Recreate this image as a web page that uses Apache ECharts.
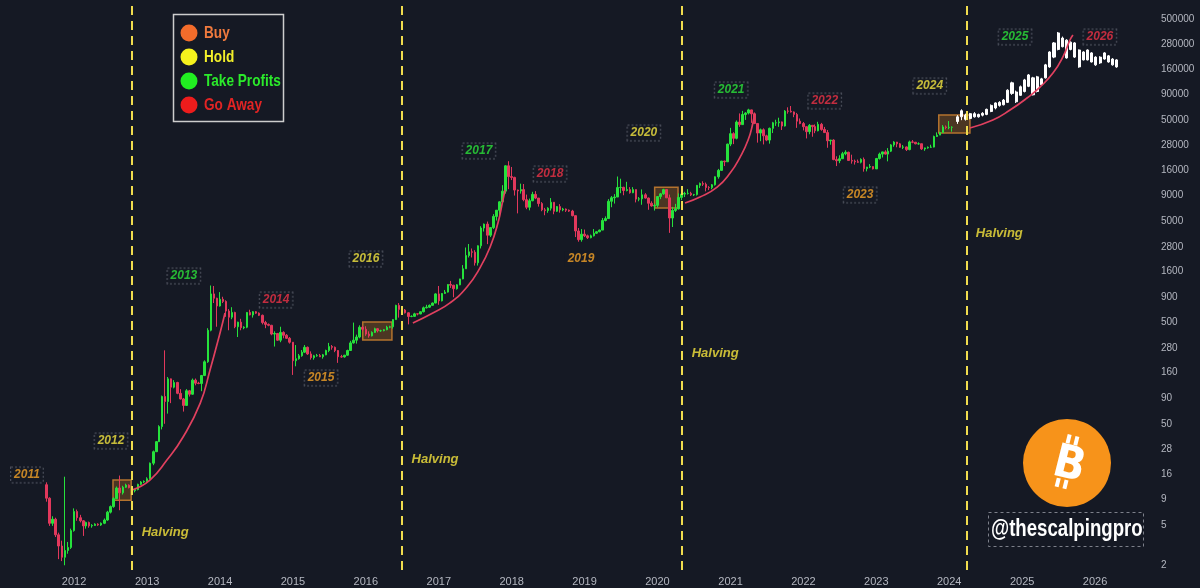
<!DOCTYPE html>
<html>
<head>
<meta charset="utf-8">
<script src="https://cdn.jsdelivr.net/npm/echarts@6/dist/echarts.min.js"></script>
<style>
  html, body { margin: 0; padding: 0; background: #151924; }
  #chart { width: 1200px; height: 588px; }
</style>
</head>
<body>
<div id="chart"></div>
<script>
// half-month candles, [open, close, low, high]; first one is 2011-08-16
const realStart = { year: 2011, month: 7, half: 1 };
const realOhlc = [
  // 2011
  [12.5, 9.2, 8.5, 13.2], [9.2, 5.2, 4.9, 9.4], [5.2, 5.7, 4.9, 6.1], [5.7, 4.0, 3.8, 5.9],
  [4.0, 3.1, 2.3, 4.2], [3.1, 2.4, 2.2, 3.5], [2.4, 2.8, 2.0, 15.0], [2.8, 3.0, 2.6, 3.4],
  [3.0, 4.4, 2.9, 4.6],
  // 2012
  [4.4, 6.8, 4.3, 7.3], [6.8, 5.9, 5.5, 7.1], [5.9, 5.5, 5.3, 6.3], [5.5, 4.9, 3.9, 5.6],
  [4.9, 5.3, 4.6, 5.4], [5.3, 4.9, 4.7, 5.4], [4.9, 4.95, 4.7, 5.1], [4.95, 5.1, 4.9, 5.2],
  [5.1, 5.0, 4.9, 5.2], [5.0, 5.2, 4.9, 5.3], [5.2, 5.6, 5.1, 5.8], [5.6, 6.7, 5.5, 6.9],
  [6.7, 7.6, 6.5, 7.8], [7.6, 9.1, 7.4, 9.4], [9.1, 11.6, 9.0, 12.0], [11.6, 10.4, 7.0, 15.4],
  [10.4, 11.8, 10.0, 12.2], [11.8, 12.4, 11.6, 12.8], [12.4, 11.7, 11.5, 12.6], [11.7, 10.9, 10.6, 12.0],
  [10.9, 11.2, 10.5, 11.4], [11.2, 12.6, 11.0, 12.8], [12.6, 13.3, 12.4, 13.6], [13.3, 13.5, 13.0, 13.8],
  // 2013
  [13.5, 14.3, 13.2, 14.8], [14.3, 20.4, 14.1, 20.7], [20.4, 26.5, 19.5, 27.2], [26.5, 33.3, 26.3, 33.8],
  [33.3, 46.9, 33.0, 48.4], [46.9, 93, 44, 95], [93, 83, 50, 266], [83, 139, 63, 145],
  [139, 115, 80, 140], [115, 128, 112, 135], [128, 100, 98, 130], [100, 88, 87, 110],
  [88, 76, 66, 90], [76, 106, 75, 110], [106, 98, 93, 108], [98, 135, 97, 140],
  [135, 126, 120, 140], [126, 125, 123, 130], [125, 150, 105, 152], [150, 205, 148, 212],
  [205, 420, 200, 440], [420, 960, 410, 1163], [960, 870, 780, 1150], [870, 730, 455, 880],
  // 2014
  [730, 850, 720, 1000], [850, 810, 780, 900], [810, 650, 570, 830], [650, 565, 420, 680],
  [565, 630, 540, 710], [630, 455, 440, 640], [455, 505, 360, 510], [505, 445, 420, 545],
  [445, 450, 430, 460], [450, 630, 440, 635], [630, 595, 590, 670], [595, 640, 560, 650],
  [640, 620, 610, 650], [620, 590, 580, 630], [590, 500, 480, 600], [500, 480, 440, 520],
  [480, 470, 460, 490], [470, 385, 375, 475], [385, 390, 290, 410], [390, 335, 330, 395],
  [335, 400, 320, 455], [400, 375, 350, 410], [375, 350, 345, 385], [350, 320, 310, 360],
  // 2015
  [320, 210, 152, 320], [210, 220, 185, 300], [220, 235, 215, 245], [235, 255, 230, 268],
  [255, 285, 250, 300], [285, 245, 240, 290], [245, 225, 215, 260], [225, 235, 215, 240],
  [235, 236, 230, 245], [236, 230, 228, 245], [230, 240, 220, 245], [240, 265, 238, 270],
  [265, 290, 255, 315], [290, 285, 270, 300], [285, 265, 255, 290], [265, 230, 200, 268],
  [230, 229, 225, 240], [229, 238, 225, 240], [238, 265, 235, 270], [265, 315, 262, 330],
  [315, 335, 310, 500], [335, 360, 310, 380], [360, 450, 350, 470], [450, 430, 410, 465],
  // 2016
  [430, 385, 370, 460], [385, 370, 355, 410], [370, 400, 365, 410], [400, 435, 395, 445],
  [435, 415, 400, 440], [415, 416, 405, 425], [416, 425, 410, 430], [425, 450, 420, 465],
  [450, 455, 440, 465], [455, 535, 435, 540], [535, 740, 530, 750], [740, 675, 560, 780],
  [675, 665, 610, 700], [665, 625, 615, 680], [625, 575, 480, 630], [575, 576, 565, 590],
  [576, 610, 570, 625], [610, 608, 590, 615], [608, 640, 605, 645], [640, 700, 630, 720],
  [700, 710, 690, 750], [710, 740, 700, 755], [740, 780, 740, 790], [780, 960, 775, 975],
  // 2017
  [960, 820, 750, 1150], [820, 970, 810, 980], [970, 1000, 960, 1050], [1000, 1190, 990, 1200],
  [1190, 1170, 1100, 1290], [1170, 1080, 890, 1180], [1080, 1180, 1060, 1200], [1180, 1350, 1170, 1355],
  [1350, 1700, 1340, 1850], [1700, 2300, 1700, 2760], [2300, 2500, 2200, 2990], [2500, 2480, 2200, 2700],
  [2480, 1950, 1830, 2600], [1950, 2870, 1830, 2900], [2870, 4300, 2700, 4480], [4300, 4700, 3970, 4760],
  [4700, 3650, 2980, 4980], [3650, 4340, 3500, 4400], [4340, 5600, 4200, 5900], [5600, 6450, 5100, 6470],
  [6450, 7800, 5500, 7900], [7800, 9950, 7700, 11400], [9950, 17700, 9400, 17900], [17700, 13850, 10400, 19666],
  // 2018
  [13850, 13600, 12800, 17250], [13600, 10200, 9000, 13800], [10200, 10000, 6000, 10300], [10000, 10300, 9400, 11800],
  [10300, 8200, 7900, 11700], [8200, 6900, 6600, 9200], [6900, 8000, 6430, 8400], [8000, 9250, 7900, 9800],
  [9250, 8500, 8300, 9950], [8500, 7500, 7000, 8500], [7500, 6500, 6300, 7750], [6500, 6390, 5750, 6800],
  [6390, 6750, 6080, 6900], [6750, 7730, 6400, 8500], [7730, 6300, 5880, 7750], [6300, 7000, 6200, 7100],
  [7000, 6500, 6100, 7400], [6500, 6620, 6300, 6800], [6620, 6450, 6200, 6700], [6450, 6320, 6200, 6550],
  [6320, 5700, 5600, 6500], [5700, 4020, 3500, 5700], [4020, 3300, 3150, 4300], [3300, 3740, 3150, 4200],
  // 2019
  [3740, 3600, 3500, 4150], [3600, 3450, 3350, 3700], [3450, 3600, 3400, 3700], [3600, 3820, 3550, 4200],
  [3820, 3950, 3750, 4000], [3950, 4100, 3900, 4150], [4100, 5100, 4100, 5400], [5100, 5330, 5000, 5600],
  [5330, 7900, 5300, 8300], [7900, 8560, 6900, 8900], [8560, 8700, 7500, 9300], [8700, 10800, 8700, 13880],
  [10800, 10850, 9500, 13200], [10850, 10090, 9060, 11000], [10090, 10300, 9900, 12300], [10300, 9600, 9400, 10900],
  [9600, 10300, 9500, 10900], [10300, 8300, 7700, 10350], [8300, 8350, 7900, 8700], [8350, 9150, 7300, 10350],
  [9150, 8500, 8400, 9500], [8500, 7550, 6515, 8600], [7550, 7100, 7000, 7900], [7100, 7200, 6400, 7500],
  // 2020
  [7200, 8800, 6850, 8900], [8800, 9350, 8300, 9550], [9350, 10300, 9150, 10500], [10300, 8540, 8500, 10300],
  [8540, 5400, 3850, 9200], [5400, 6420, 4400, 6950], [6420, 6650, 6200, 7450], [6650, 8620, 6550, 9450],
  [8620, 9300, 8100, 10000], [9300, 9450, 8700, 9800], [9450, 9460, 9200, 10400], [9460, 9140, 8900, 9800],
  [9140, 9200, 8900, 9350], [9200, 11350, 9000, 11450], [11350, 11850, 10700, 12100], [11850, 11650, 11200, 12450],
  [11650, 10800, 9900, 12100], [10800, 10780, 10200, 11150], [10780, 11500, 10400, 11700], [11500, 13800, 11300, 13900],
  [13800, 15950, 13200, 16500], [15950, 19700, 15800, 19800], [19700, 19400, 17600, 19900], [19400, 29000, 19300, 29300],
  // 2021
  [29000, 36800, 27700, 42000], [36800, 33100, 29000, 38000], [33100, 47900, 32300, 49700], [47900, 45200, 43000, 58350],
  [45200, 56900, 45000, 61800], [56900, 58800, 50300, 60000], [58800, 63200, 57000, 64800], [63200, 57700, 47000, 63500],
  [57700, 46400, 45700, 59600], [46400, 37300, 30000, 46700], [37300, 40200, 31000, 41300], [40200, 35000, 28800, 41500],
  [35000, 31800, 31000, 35900], [31800, 41500, 29300, 42300], [41500, 47100, 37300, 48100], [47100, 47150, 43900, 50500],
  [47150, 48100, 43000, 52900], [48100, 43800, 40000, 48500], [43800, 61500, 43300, 62900], [61500, 61300, 58000, 67000],
  [61300, 60300, 59500, 69000], [60300, 57000, 53500, 61000], [57000, 48900, 42000, 59000], [48900, 46300, 45600, 52000],
  // 2022
  [46300, 43100, 39600, 48000], [43100, 38500, 33000, 43500], [38500, 44500, 36300, 45800], [44500, 43200, 34300, 44600],
  [43200, 39300, 37200, 45400], [39300, 45500, 38800, 48200], [45500, 40500, 39300, 47000], [40500, 37700, 37600, 42900],
  [37700, 31300, 26700, 40000], [31300, 31800, 28600, 31900], [31800, 20400, 20100, 32400], [20400, 19900, 17600, 22000],
  [19900, 20800, 18800, 22500], [20800, 23300, 20700, 24300], [23300, 24100, 22500, 25200], [24100, 20000, 19800, 24400],
  [20000, 19700, 18600, 22800], [19700, 19400, 18200, 20400], [19400, 19200, 18900, 20400], [19200, 20500, 18700, 21000],
  [20500, 16600, 15500, 21400], [16600, 17200, 15600, 17300], [17200, 17400, 16800, 18400], [17400, 16500, 16300, 17500],
  // 2023
  [16500, 20900, 16500, 21200], [20900, 23100, 20400, 23900], [23100, 24300, 21400, 24400], [24300, 23100, 22900, 25200],
  [23100, 24700, 19600, 26500], [24700, 28500, 24200, 29000], [28500, 30400, 27300, 31000], [30400, 29200, 27000, 30500],
  [29200, 27000, 26700, 29800], [27000, 27200, 25900, 28400], [27200, 25600, 24800, 27500], [25600, 30500, 25200, 31400],
  [30500, 30300, 29600, 31800], [30300, 29200, 28900, 30400], [29200, 29250, 28600, 30200], [29250, 26000, 25400, 29300],
  [26000, 26600, 24900, 26800], [26600, 27000, 26100, 27500], [27000, 27100, 26600, 28600], [27100, 34500, 26900, 35200],
  [34500, 35600, 34100, 37900], [35600, 37700, 35600, 38400], [37700, 42900, 37600, 44700], [42900, 42300, 40600, 44300],
  // 2024
  [42300, 42500, 40700, 49000], [42500, 42600, 38500, 43500]
];

// projected path (white bars), one bar every 21 days from 2024-02-12
const projStart = [2024, 1, 12];
const projStepDays = 21;
const projOhlc = [
  [48500, 54000, 46000, 56000], [54000, 62000, 50000, 64000], [56000, 51000, 49500, 58000], [52000, 58000, 51000, 59000],
  [58000, 54000, 53000, 60000], [54000, 57000, 53000, 58000], [56000, 58500, 54500, 60000], [57000, 64000, 56000, 65000],
  [61000, 70000, 60000, 71500], [66000, 74000, 64000, 75000], [70000, 75000, 68000, 77000], [71000, 79000, 70000, 81000],
  [75000, 99000, 74000, 101000], [92000, 117000, 89000, 120000], [95000, 76000, 74000, 98000], [88000, 107000, 87000, 110000],
  [96000, 125000, 94000, 128000], [108000, 140000, 106000, 143000], [131000, 89000, 88000, 134000], [96000, 134000, 94000, 137000],
  [112000, 128000, 110000, 131000], [131000, 176000, 129000, 180000], [168000, 236000, 165000, 240000], [210000, 290000, 205000, 296000],
  [250000, 364000, 245000, 372000], [324000, 266000, 262000, 335000], [309000, 206000, 203000, 315000], [250000, 295000, 245000, 300000],
  [290000, 210000, 206000, 295000], [247000, 168000, 165000, 250000], [197000, 236000, 195000, 240000], [247000, 197000, 195000, 250000],
  [231000, 188000, 186000, 235000], [210000, 176000, 172000, 214000], [184000, 210000, 180000, 214000], [201000, 231000, 198000, 235000],
  [216000, 188000, 185000, 220000], [201000, 176000, 173000, 205000], [197000, 168000, 165000, 200000]
];

const yearTicks = [2012, 2013, 2014, 2015, 2016, 2017, 2018, 2019, 2020, 2021, 2022, 2023, 2024, 2025, 2026];
const priceTicks = [2, 5, 9, 16, 28, 50, 90, 160, 280, 500, 900, 1600, 2800, 5000, 9000,
  16000, 28000, 50000, 90000, 160000, 280000, 500000];

const halvingDates = ['2012-10-18', '2016-07-01', '2020-05-04', '2024-03-27'];
const halvingLabelPrice = [4.2, 22, 250, 3840];

// cycle phase colours (legend order: buy, hold, take profits, go away)
const phaseText = { buy: '#f3a127', hold: '#f2e540', take: '#2ce23a', away: '#ec3246' };

// [label, date, price, phase, boxed]
const yearTags = [
  ['2011', '2011-05-10', 15.6, 'buy', true],
  ['2012', '2012-07-04', 33.8, 'hold', true],
  ['2013', '2013-07-04', 1443, 'take', true],
  ['2014', '2014-10-09', 836, 'away', true],
  ['2015', '2015-05-22', 142, 'buy', true],
  ['2016', '2016-01-02', 2125, 'hold', true],
  ['2017', '2017-07-21', 24800, 'take', true],
  ['2018', '2018-07-12', 14700, 'away', true],
  ['2019', '2018-12-14', 2125, 'buy', false],
  ['2020', '2019-10-25', 37400, 'hold', true],
  ['2021', '2021-01-04', 99400, 'take', true],
  ['2022', '2022-04-18', 77400, 'away', true],
  ['2023', '2022-10-12', 9120, 'buy', true],
  ['2024', '2023-09-26', 109000, 'hold', true],
  ['2025', '2024-11-26', 332000, 'take', true],
  ['2026', '2026-01-25', 332000, 'away', true]
];

// accumulation boxes around each halving: [[date, top], [date, bottom]]
const boxes = [
  [['2012-07-14', 13.9], ['2012-10-13', 8.8]],
  [['2015-12-17', 507], ['2016-05-11', 336]],
  [['2019-12-18', 10900], ['2020-04-13', 6780]],
  [['2023-11-10', 56100], ['2024-04-14', 37400]]
];

// red support arcs under each run
const curves = [
  [['2012-10-18', 11.1], ['2013-01-15', 13.9], ['2013-04-10', 21.9], ['2013-06-30', 37], ['2013-09-24', 80],
   ['2013-11-12', 170], ['2014-01-01', 395], ['2014-01-26', 622]],
  [['2016-08-24', 495], ['2016-12-02', 622], ['2017-02-26', 782], ['2017-05-22', 1125], ['2017-07-26', 1734],
   ['2017-09-15', 2793], ['2017-10-24', 4820], ['2017-11-18', 8130], ['2017-11-29', 10200]],
  [['2020-05-18', 7600], ['2020-08-01', 8710], ['2020-10-26', 10900], ['2020-12-30', 15000], ['2021-02-18', 21600],
   ['2021-03-30', 31800], ['2021-04-23', 46900], ['2021-05-01', 59000]],
  [['2024-04-14', 41900], ['2024-08-07', 50200], ['2024-11-01', 63000], ['2025-01-25', 82800], ['2025-03-31', 106000],
   ['2025-06-04', 146000], ['2025-07-24', 211000], ['2025-08-28', 310000], ['2025-09-12', 348000]]
];

const legendItems = [
  { name: 'Buy', dot: '#f36c2b', text: '#f07a3e' },
  { name: 'Hold', dot: '#f6f21d', text: '#f2ef2a' },
  { name: 'Take Profits', dot: '#21ee21', text: '#2bea2b' },
  { name: 'Go Away', dot: '#ee1c1c', text: '#e12424' }
];

function ts(s) {
  const p = s.split('-').map(Number);
  return new Date(p[0], p[1] - 1, p[2]).getTime();
}

const realData = realOhlc.map((row, i) => {
  const k = realStart.month * 2 + realStart.half + i;
  const year = realStart.year + Math.floor(k / 24);
  const month = Math.floor((k % 24) / 2);
  const day = k % 2 ? 16 : 1;
  return [new Date(year, month, day).getTime(), ...row];
});
const projData = projOhlc.map((row, i) =>
  [new Date(projStart[0], projStart[1], projStart[2] + i * projStepDays).getTime(), ...row]);

const GREEN = '#26e23c';
const RED = '#e2385c';
const YELLOW = '#f0dc4e';
const AXIS_TXT = '#b4b7c0';

const chart = echarts.init(document.getElementById('chart'));

chart.setOption({
  backgroundColor: '#151924',
  animation: false,
  grid: { left: 0, right: 50, top: 0, bottom: 18 },
  xAxis: {
    // timestamps on a plain value axis so the yearly labels can be placed exactly
    type: 'value',
    min: ts('2010-12-26'),
    max: ts('2026-10-03'),
    axisLine: { show: false },
    axisTick: { show: false },
    splitLine: { show: false },
    axisLabel: {
      customValues: yearTicks.map(y => new Date(y, 0, 1).getTime()),
      formatter: v => String(new Date(v).getFullYear()),
      color: AXIS_TXT,
      fontSize: 11,
      margin: 6,
      fontFamily: 'Liberation Sans'
    }
  },
  yAxis: {
    type: 'log',
    position: 'right',
    min: 1.796,
    max: 770000,
    axisLine: { show: false },
    axisTick: { show: false },
    splitLine: { show: false },
    axisLabel: {
      customValues: priceTicks,
      formatter: v => String(Math.round(v)),
      color: AXIS_TXT,
      fontSize: 10,
      margin: 11,
      fontFamily: 'Liberation Sans'
    }
  },
  series: [
    {
      name: 'BTC',
      type: 'candlestick',
      data: realData,
      encode: { x: 0, y: [1, 2, 3, 4] },
      barWidth: 2,
      itemStyle: { color: GREEN, color0: RED, borderColor: GREEN, borderColor0: RED, borderWidth: 1 },
      markLine: {
        silent: true,
        symbol: ['none', 'none'],
        label: { show: false },
        lineStyle: { color: YELLOW, width: 2, type: [9, 6] },
        data: halvingDates.map(d => ({ xAxis: ts(d) }))
      },
      markArea: {
        silent: true,
        itemStyle: { color: 'rgba(150, 95, 35, 0.42)', borderColor: '#b4732e', borderWidth: 1.5 },
        data: boxes.map(b => [{ coord: [ts(b[0][0]), b[0][1]] }, { coord: [ts(b[1][0]), b[1][1]] }])
      }
    },
    {
      name: 'Projection',
      type: 'candlestick',
      data: projData,
      encode: { x: 0, y: [1, 2, 3, 4] },
      barWidth: 2.6,
      itemStyle: { color: '#ffffff', color0: '#ffffff', borderColor: '#ffffff', borderColor0: '#ffffff', borderWidth: 1 }
    },
    ...curves.map(c => ({
      type: 'line',
      data: c.map(p => [ts(p[0]), p[1]]),
      smooth: true,
      showSymbol: false,
      silent: true,
      lineStyle: { color: '#e0405f', width: 1.7 },
      z: 3
    })),
    {
      type: 'scatter',
      silent: true,
      symbolSize: 1,
      itemStyle: { color: 'rgba(0,0,0,0)' },
      data: halvingDates.map((d, i) => [ts(d), halvingLabelPrice[i]]),
      label: {
        show: true,
        position: 'right',
        distance: 9,
        formatter: 'Halving',
        color: '#f5e43c',
        fontSize: 13,
        fontWeight: 'bold',
        fontStyle: 'italic',
        fontFamily: 'Liberation Sans'
      },
      z: 5
    },
    {
      type: 'scatter',
      silent: true,
      symbolSize: 1,
      itemStyle: { color: 'rgba(0,0,0,0)' },
      data: yearTags.map(t => ({
        name: t[0],
        value: [ts(t[1]), t[2]],
        label: {
          color: phaseText[t[3]],
          borderWidth: t[4] ? 1 : 0
        }
      })),
      label: {
        show: true,
        position: 'inside',
        formatter: p => p.name,
        fontSize: 12,
        fontWeight: 'bold',
        fontStyle: 'italic',
        fontFamily: 'Liberation Sans',
        backgroundColor: '#151924',
        borderColor: '#5a5e6a',
        borderType: [2, 2],
        padding: [2, 3, 1, 3]
      },
      z: 6
    }
  ],
  graphic: [
    // legend box
    { type: 'rect', shape: { x: 173.5, y: 14.5, width: 110, height: 107 },
      style: { fill: '#151924', stroke: '#cdcdcd', lineWidth: 1.5 }, z: 10 },
    ...legendItems.map((it, i) => ({
      type: 'circle', shape: { cx: 189, cy: 33 + i * 24, r: 8.5 }, style: { fill: it.dot }, z: 11
    })),
    ...legendItems.map((it, i) => ({
      type: 'text', x: 204, y: 33 + i * 24, scaleX: 0.8, z: 11,
      style: { text: it.name, fill: it.text, font: "bold 17px 'Liberation Sans'", verticalAlign: 'middle' }
    })),
    // bitcoin logo
    { type: 'circle', shape: { cx: 1067, cy: 463, r: 44 }, style: { fill: '#f7931a' }, z: 10 },
    {
      type: 'group', x: 1068, y: 466, rotation: -0.245,
      children: [
        { type: 'text', x: 1, y: 0, scaleX: 0.9, z: 12,
          style: { text: 'B', fill: '#ffffff', font: "bold 46px 'DejaVu Sans'", align: 'center', verticalAlign: 'middle' } },
        { type: 'rect', z: 12, shape: { x: -8, y: -31, width: 4, height: 9 }, style: { fill: '#ffffff' } },
        { type: 'rect', z: 12, shape: { x: 0, y: -31, width: 4, height: 9 }, style: { fill: '#ffffff' } },
        { type: 'rect', z: 12, shape: { x: -8, y: 14, width: 4, height: 9 }, style: { fill: '#ffffff' } },
        { type: 'rect', z: 12, shape: { x: 0, y: 14, width: 4, height: 9 }, style: { fill: '#ffffff' } }
      ]
    },
    // handle
    { type: 'rect', shape: { x: 988.5, y: 512.5, width: 155, height: 34 },
      style: { fill: 'none', stroke: '#7d808a', lineWidth: 1, lineDash: [3, 3] }, z: 10 },
    { type: 'text', x: 991, y: 530, scaleX: 0.81, z: 11,
      style: { text: '@thescalpingpro', fill: '#ffffff', font: "bold 23px 'Liberation Sans'", verticalAlign: 'middle' } }
  ]
});
</script>
</body>
</html>
